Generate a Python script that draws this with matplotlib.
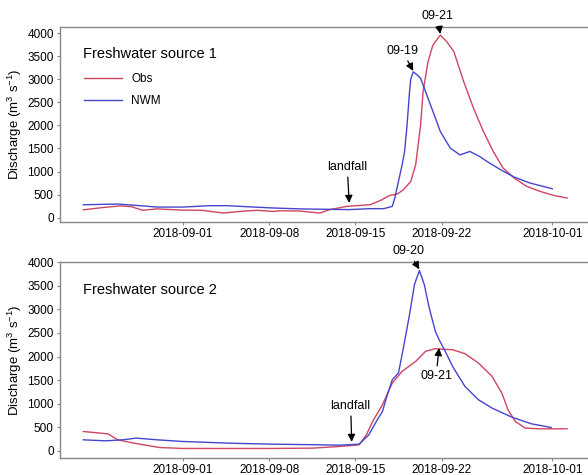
import matplotlib
matplotlib.use("Agg")
import matplotlib.pyplot as plt
import matplotlib.dates as mdates
import numpy as np
import pandas as pd

# days counted from 2018-09-01, discharge in m3/s
obs1_day = [-8.1, -6.5, -5.1, -4.2, -3.3, -2.1, -0.2, 1.5, 3.3, 4.6, 6.0, 7.3, 7.9, 9.5, 11.1, 11.9,
            13.3, 15.2, 16.0, 16.8, 17.4, 17.9, 18.5, 18.9, 19.3, 19.5, 19.9, 20.3, 20.9, 21.4,
            22.0, 22.8, 23.6, 24.4, 25.2, 26.0, 26.9, 27.9, 29.0, 30.1, 31.2]
obs1_q = [170, 220, 255, 240, 160, 190, 165, 160, 100, 135, 160, 135, 150, 143, 100, 173,
          245, 281, 368, 483, 512, 605, 785, 1146, 2010, 2730, 3380, 3740, 3957, 3820,
          3600, 2950, 2370, 1870, 1435, 1075, 860, 680, 570, 483, 425]
nwm1_day = [-8.1, -5.3, -3.5, -2.1, 0.0, 2.2, 3.6, 5.0, 7.3, 9.5, 12.0, 13.5, 15.2, 16.3, 17.0,
            17.2, 17.5, 17.8, 18.0, 18.2, 18.4, 18.5, 18.7, 19.0, 19.3, 19.8, 20.4, 20.9, 21.7,
            22.5, 23.3, 24.1, 24.7, 25.8, 26.9, 28.2, 30.0]
nwm1_q = [280, 295, 260, 230, 230, 260, 260, 240, 210, 190, 180, 175, 195, 195, 245,
          425, 785, 1146, 1435, 2010, 2730, 3000, 3160, 3100, 3020, 2660, 2230, 1870, 1510,
          1360, 1435, 1325, 1217, 1038, 880, 750, 627]

obs2_day = [-8.1, -6.1, -5.3, -4.0, -1.9, 0.0, 7.0, 10.5, 12.7, 14.3, 14.9, 15.4, 16.2, 17.0,
            17.8, 18.9, 19.7, 20.5, 21.3, 21.9, 22.9, 24.0, 25.1, 25.9, 26.4, 27.0, 27.8,
            28.9, 31.2]
obs2_q = [410, 360, 233, 163, 70, 50, 50, 57, 92, 127, 340, 623, 977, 1438,
          1685, 1897, 2110, 2167, 2150, 2145, 2060, 1862, 1580, 1225, 870, 623, 482,
          467, 467]
nwm2_day = [-8.1, -6.3, -4.9, -3.8, -2.1, 0.0, 4.0, 7.3, 10.5, 12.7, 14.3, 15.1, 15.7, 16.2,
            16.6, 17.0, 17.5, 17.9, 18.4, 18.8, 19.2, 19.6, 20.0, 20.5, 20.8, 21.3, 21.9,
            22.9, 24.0, 25.1, 26.7, 28.3, 29.9]
nwm2_q = [233, 212, 233, 270, 233, 198, 160, 141, 130, 120, 142, 340, 623, 835,
          1190, 1508, 1650, 2180, 2890, 3525, 3823, 3525, 3030, 2535, 2358, 2110, 1790,
          1366, 1083, 907, 715, 573, 495]

base = pd.Timestamp("2018-09-01")


def to_dates(days):
    return base + pd.to_timedelta(np.array(days), unit="D")


plt.rcParams['font.family'] = ['Liberation Sans', 'DejaVu Sans']
plt.rcParams['mathtext.fontset'] = 'custom'
plt.rcParams['mathtext.rm'] = 'Liberation Sans'
plt.rcParams['mathtext.default'] = 'rm'
red = '#d0455f'
blue = '#4545d0'

fig = plt.figure(figsize=(5.88, 4.75), dpi=100)
ax1 = fig.add_axes([0.102, 0.533, 0.898, 0.410])
ax2 = fig.add_axes([0.102, 0.036, 0.898, 0.412])

panels = [
    (ax1, obs1_day, obs1_q, nwm1_day, nwm1_q, "Freshwater source 1", (-90, 4130)),
    (ax2, obs2_day, obs2_q, nwm2_day, nwm2_q, "Freshwater source 2", (-150, 4000)),
]

for ax, od, oq, nd, nq, title, ylim in panels:
    ax.plot(to_dates(od), oq, color=red, lw=1.0, label="Obs")
    ax.plot(to_dates(nd), nq, color=blue, lw=1.0, label="NWM")
    ax.set_xlim(base - pd.Timedelta(days=10), base + pd.Timedelta(days=32.9))
    ax.set_ylim(*ylim)
    ax.set_yticks(range(0, 4001, 500))
    ax.set_xticks([base + pd.Timedelta(days=d) for d in [0, 7, 14, 21, 30]])
    ax.xaxis.set_major_formatter(mdates.DateFormatter("%Y-%m-%d"))
    ax.tick_params(labelsize=8.5, length=2.5, width=0.8, color='#888888', pad=2)
    for s in ['left', 'bottom', 'top']:
        ax.spines[s].set_color('#888888')
        ax.spines[s].set_linewidth(1.0)
    ax.spines['right'].set_visible(False)
    ax.set_ylabel("Discharge (m$^3$ s$^{-1}$)", fontsize=9.5, labelpad=2)
    ax.text(0.043, 0.86, title, transform=ax.transAxes, fontsize=10.5, va='center')

ax1.legend(loc='upper left', bbox_to_anchor=(0.025, 0.82), frameon=False, fontsize=8.5,
           handlelength=3.2, labelspacing=0.9)

arrow = dict(arrowstyle='-|>', color='black', lw=0.9, mutation_scale=11, shrinkA=1, shrinkB=0)


def mark(ax, label, day, q, dx, dy):
    ax.annotate(label, xy=(base + pd.Timedelta(days=day), q), xytext=(dx, dy),
                textcoords='offset pixels', ha='center', va='center', fontsize=9,
                arrowprops=arrow)


mark(ax1, "09-21", 20.9, 3980, -3, 18)
mark(ax1, "09-19", 18.7, 3180, -11, 20)
mark(ax1, "landfall", 13.5, 320, -2, 36)
mark(ax2, "09-20", 19.2, 3850, -11, 18)
mark(ax2, "09-21", 20.8, 2180, -3, -28)
mark(ax2, "landfall", 13.7, 190, -1, 36)

fig.savefig("out.png", dpi=100)
